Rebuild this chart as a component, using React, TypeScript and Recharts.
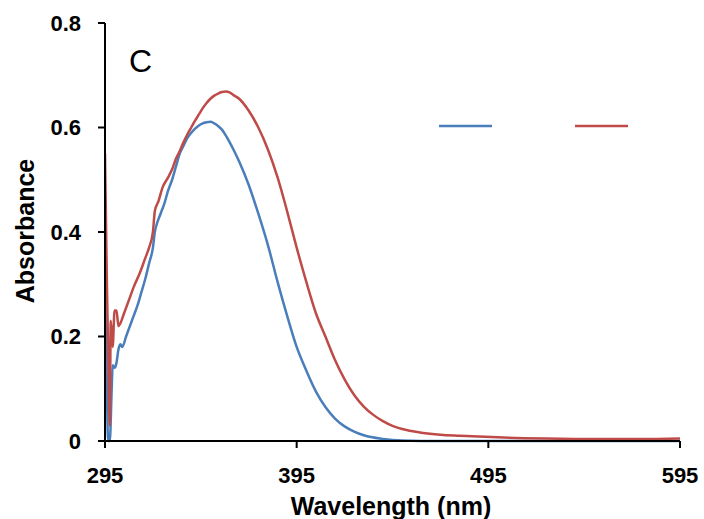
import React from 'react';
import { LineChart, Line, XAxis, YAxis } from 'recharts';

// wavelength (nm) / absorbance
const blueWl = [295, 296, 296.6, 297.5, 298.5, 299, 300, 301, 302, 303, 304, 306, 308, 310, 312, 314, 316, 318, 320, 321, 322, 324, 326, 328, 330, 332, 334, 336, 338, 340, 342, 344, 346, 348, 350, 352, 354, 356, 358, 360, 362, 365, 370, 375, 380, 385, 390, 395, 400, 405, 410, 415, 420, 425, 430, 440, 450, 470, 500, 550, 595];
const blueAbs = [0.29, 0.1, 0.0, 0.0, 0.1, 0.145, 0.14, 0.15, 0.175, 0.185, 0.18, 0.2, 0.22, 0.24, 0.26, 0.285, 0.31, 0.34, 0.37, 0.4, 0.415, 0.435, 0.455, 0.48, 0.5, 0.525, 0.55, 0.565, 0.58, 0.59, 0.598, 0.604, 0.608, 0.61, 0.611, 0.608, 0.603, 0.596, 0.585, 0.572, 0.558, 0.535, 0.49, 0.435, 0.375, 0.305, 0.24, 0.18, 0.135, 0.095, 0.065, 0.043, 0.028, 0.018, 0.011, 0.004, 0.001, 0.0, 0.0, 0.0, 0.0];

const redWl = [295, 296, 297, 297.5, 298, 299, 300, 301, 302, 303, 305, 308, 310, 313, 316, 318, 320, 321, 323, 325, 328, 330, 332, 334, 336, 338, 340, 342, 344, 346, 348, 350, 352, 354, 356, 358, 360, 362, 365, 370, 375, 380, 385, 390, 395, 400, 405, 410, 415, 420, 425, 430, 435, 440, 445, 450, 460, 470, 480, 500, 525, 550, 575, 595];
const redAbs = [0.55, 0.3, 0.1, 0.03, 0.23, 0.18, 0.25, 0.25, 0.22, 0.225, 0.245, 0.275, 0.295, 0.32, 0.35, 0.37, 0.4, 0.44, 0.46, 0.485, 0.505, 0.52, 0.54, 0.555, 0.572, 0.587, 0.6, 0.613, 0.625, 0.637, 0.647, 0.655, 0.661, 0.665, 0.668, 0.669, 0.667, 0.662, 0.655, 0.632, 0.6, 0.558, 0.505, 0.44, 0.37, 0.305, 0.245, 0.2, 0.155, 0.118, 0.088, 0.066, 0.05, 0.038, 0.029, 0.023, 0.016, 0.012, 0.01, 0.007, 0.005, 0.004, 0.004, 0.005];

const xTicks = [295, 395, 495, 595];
const yTicks = [0, 0.2, 0.4, 0.6, 0.8];

const blueData = blueWl.map((wl, i) => ({ wl, abs: blueAbs[i] }));
const redData = redWl.map((wl, i) => ({ wl, abs: redAbs[i] }));

const FONT = '"Liberation Sans", Arial, sans-serif';
const BLUE = '#4a7ebb';
const RED = '#be4b48';

export default function App() {
  return (
    <div style={{ position: 'absolute', left: 0, top: 0, width: 704, height: 519, background: '#fff', fontFamily: FONT }}>
      <LineChart width={704} height={519} margin={{ top: 23, right: 24, bottom: 77, left: 104 }}>
        <XAxis
          type="number"
          dataKey="wl"
          domain={[295, 595]}
          ticks={xTicks}
          allowDataOverflow
          height={1}
          tickSize={7}
          tickMargin={19}
          stroke="#000"
          strokeWidth={2}
          tick={{ fill: '#000', fontSize: 22, fontWeight: 'bold', fontFamily: FONT }}
        />
        <YAxis
          type="number"
          domain={[0, 0.8]}
          ticks={yTicks}
          width={1}
          tickSize={7}
          tickMargin={17}
          stroke="#000"
          strokeWidth={2}
          tickFormatter={(v: number) => (v === 0 ? '0' : v.toFixed(1))}
          tick={{ fill: '#000', fontSize: 22, fontWeight: 'bold', fontFamily: FONT }}
        />
        <Line data={blueData} dataKey="abs" type="monotone" stroke={BLUE} strokeWidth={2.5} dot={false} isAnimationActive={false} />
        <Line data={redData} dataKey="abs" type="monotone" stroke={RED} strokeWidth={2.5} dot={false} isAnimationActive={false} />
      </LineChart>
      {/* legend: line samples only, no series names in the source */}
      <svg style={{ position: 'absolute', left: 439, top: 121 }} width={200} height={10}>
        <line x1={0} y1={5} x2={53} y2={5} stroke={BLUE} strokeWidth={2.5} />
        <line x1={136} y1={5} x2={189} y2={5} stroke={RED} strokeWidth={2.5} />
      </svg>
      <div style={{ position: 'absolute', left: 129, top: 43, fontSize: 32, color: '#000' }}>C</div>
      <div
        style={{
          position: 'absolute', left: 25, top: 231, transform: 'translate(-50%, -50%) rotate(-90deg)',
          fontSize: 25, fontWeight: 'bold', whiteSpace: 'nowrap', color: '#000',
        }}
      >
        Absorbance
      </div>
      <div
        style={{
          position: 'absolute', left: 391, top: 506, transform: 'translate(-50%, -50%)',
          fontSize: 25, fontWeight: 'bold', whiteSpace: 'nowrap', color: '#000',
        }}
      >
        Wavelength (nm)
      </div>
    </div>
  );
}
